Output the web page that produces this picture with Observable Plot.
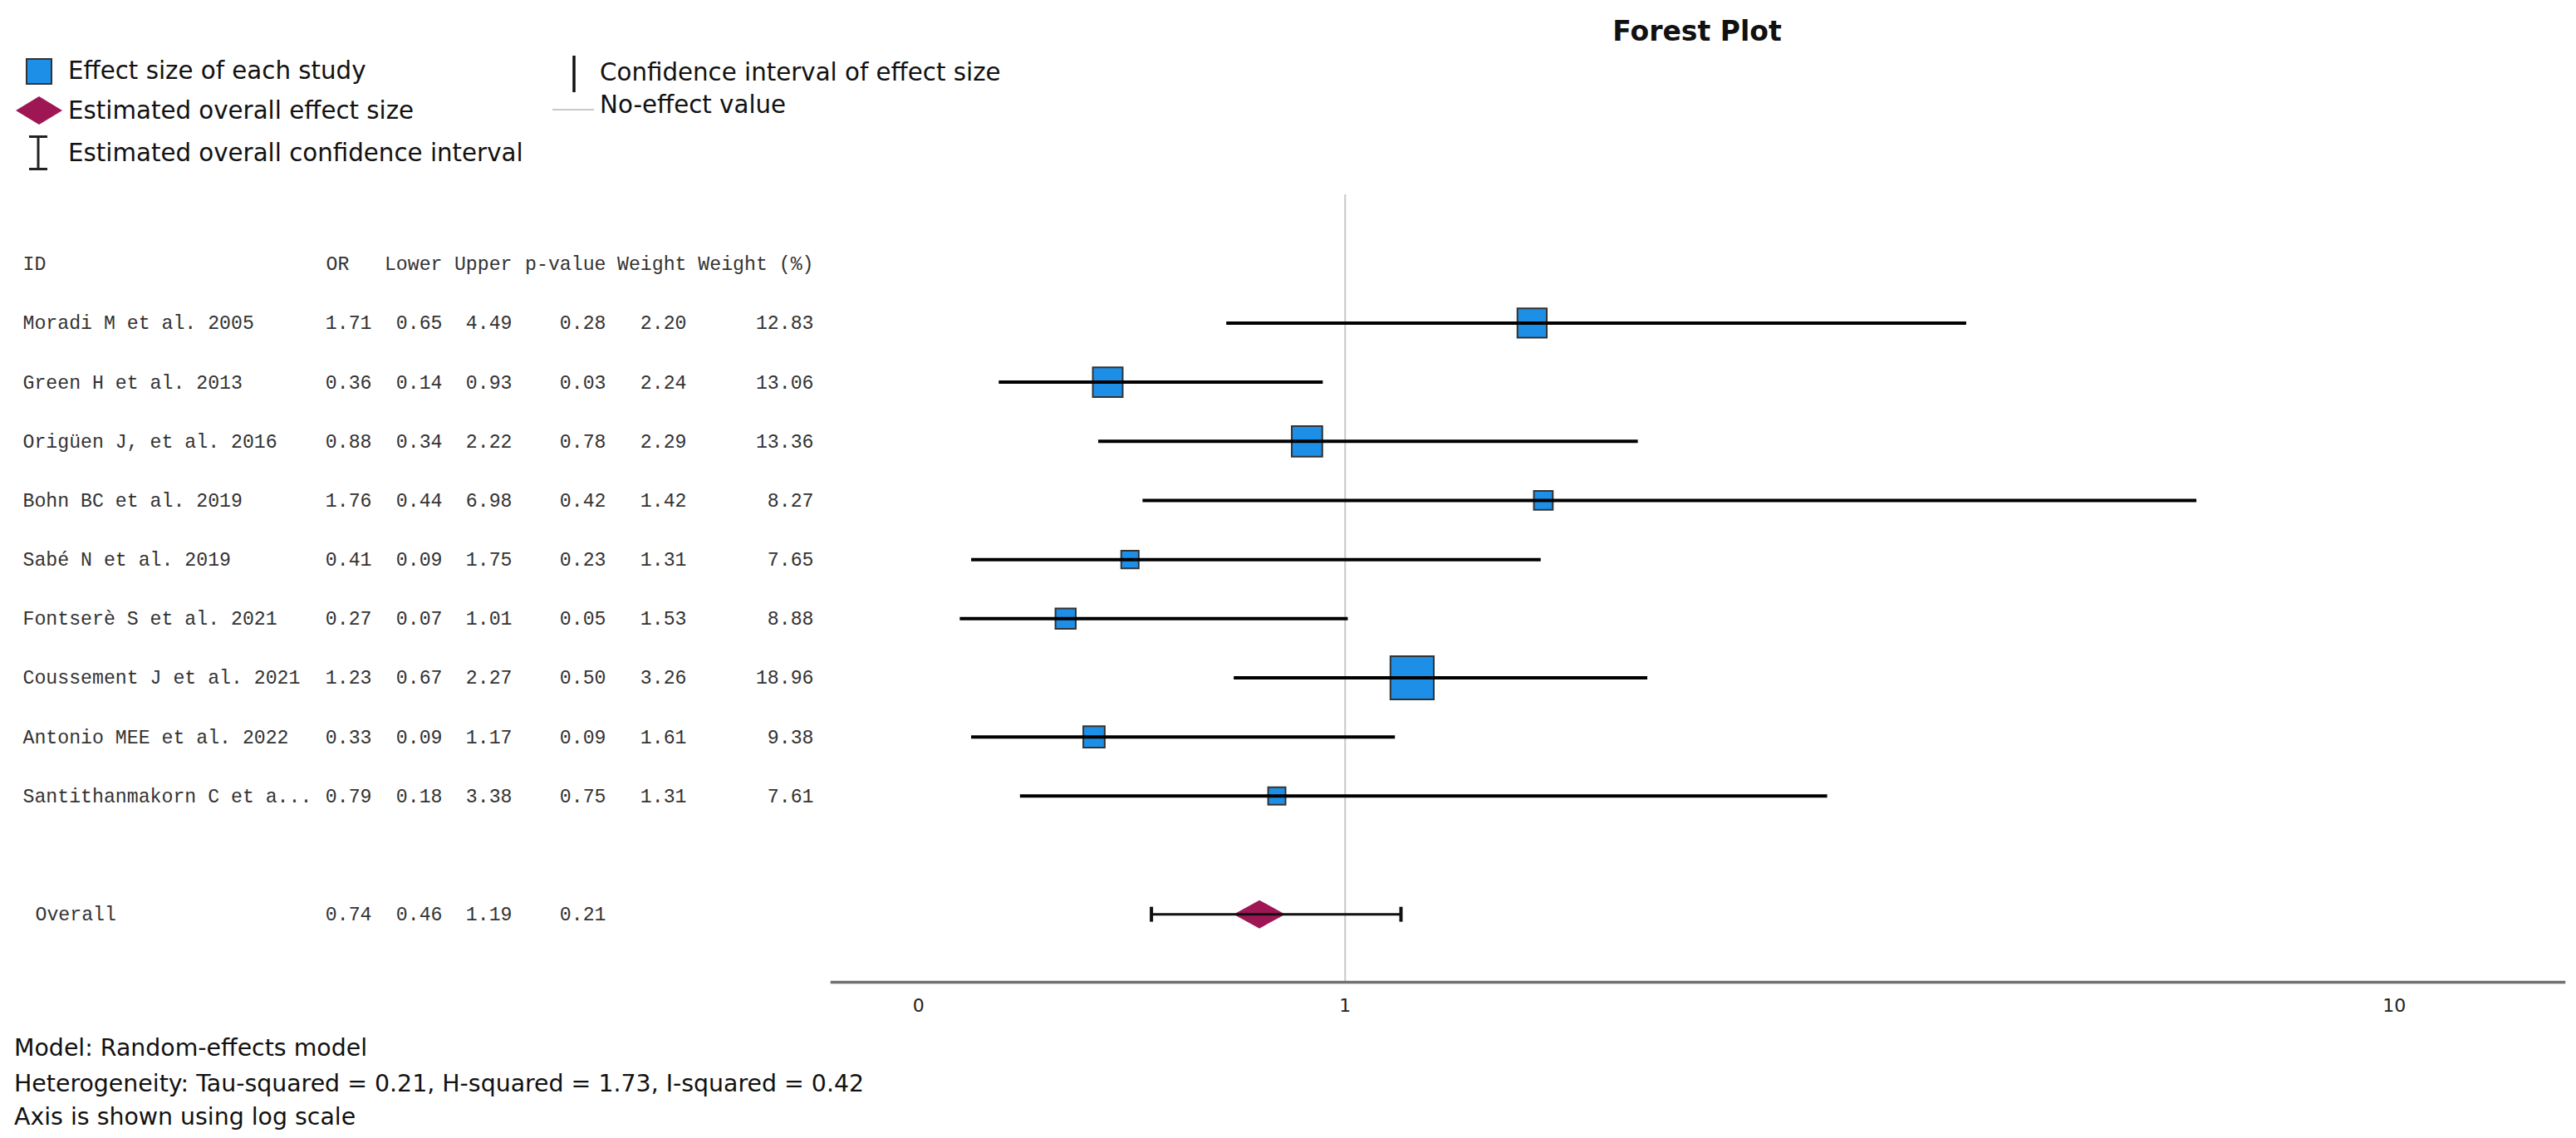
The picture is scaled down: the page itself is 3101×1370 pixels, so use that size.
<!DOCTYPE html>
<html>
<head>
<meta charset="utf-8">
<script src="https://cdn.jsdelivr.net/npm/d3@7"></script>
<script src="https://cdn.jsdelivr.net/npm/@observablehq/plot@0.6"></script>
<style>
  html, body { margin: 0; padding: 0; background: #fff; }
  #page { position: relative; width: 3101px; height: 1370px; overflow: hidden; background: #fff; }
  #chart { position: absolute; left: 0; top: 0; z-index: 0; }
  .lbl { position: absolute; font-family: "DejaVu Sans", sans-serif; color: #111; white-space: nowrap; z-index: 2; }
  .icon { position: absolute; z-index: 2; }
</style>
</head>
<body>
<div id="page">
  <div id="chart"></div>
</div>
<script>
// ---------------- data ----------------
const studies = [
  "Moradi M et al. 2005",
  "Green H et al. 2013",
  "Origüen J, et al. 2016",
  "Bohn BC et al. 2019",
  "Sabé N et al. 2019",
  "Fontserè S et al. 2021",
  "Coussement J et al. 2021",
  "Antonio MEE et al. 2022",
  "Santithanmakorn C et a..."
];
const orValues    = [1.71, 0.36, 0.88, 1.76, 0.41, 0.27, 1.23, 0.33, 0.79];
const lowerValues = [0.65, 0.14, 0.34, 0.44, 0.09, 0.07, 0.67, 0.09, 0.18];
const upperValues = [4.49, 0.93, 2.22, 6.98, 1.75, 1.01, 2.27, 1.17, 3.38];
const pValues     = [0.28, 0.03, 0.78, 0.42, 0.23, 0.05, 0.50, 0.09, 0.75];
const weights     = [2.20, 2.24, 2.29, 1.42, 1.31, 1.53, 3.26, 1.61, 1.31];
const weightPct   = [12.83, 13.06, 13.36, 8.27, 7.65, 8.88, 18.96, 9.38, 7.61];

const overallLabel = "Overall";
const overallOR = 0.74, overallLower = 0.46, overallUpper = 1.19, overallP = 0.21;

const headers = ["ID", "OR", "Lower", "Upper", "p-value", "Weight", "Weight (%)"];
const xTicks = [0, 1, 10];
const xTickLabels = ["0", "1", "10"];

const titleText = "Forest Plot";
const legendItems = [
  "Effect size of each study",
  "Estimated overall effect size",
  "Estimated overall confidence interval",
  "Confidence interval of effect size",
  "No-effect value"
];
const footerLines = [
  "Model: Random-effects model",
  "Heterogeneity: Tau-squared = 0.21, H-squared = 1.73, I-squared = 0.42",
  "Axis is shown using log scale"
];

// ---------------- tables ----------------
const rows = studies.map((id, i) => ({
  id, or: orValues[i], lower: lowerValues[i], upper: upperValues[i],
  p: pValues[i], weight: weights[i], pct: weightPct[i], row: i + 1
}));
const overall = { id: overallLabel, or: overallOR, lower: overallLower, upper: overallUpper, p: overallP, row: studies.length + 2 };
const headerRow = [{ row: 0 }];

// ---------------- layout ----------------
const W = 3101, H = 1240;
const mL = 1001, mR = 15, mT = 234, mB = 58;
const mono = "'Liberation Mono', 'DejaVu Sans Mono', monospace";
const monoSize = 23.2;
const tableColor = "#333";
const f2 = v => (v == null ? "" : v.toFixed(2));

const cols = [
  { key: "id",     x: 27,  anchor: "start", hx: 27,  hanchor: "start", fmt: v => v },
  { key: "or",     x: 447, anchor: "end",   hx: 392, hanchor: "start", fmt: f2 },
  { key: "lower",  x: 532, anchor: "end",   hx: 532, hanchor: "end",   fmt: f2 },
  { key: "upper",  x: 616, anchor: "end",   hx: 616, hanchor: "end",   fmt: f2 },
  { key: "p",      x: 729, anchor: "end",   hx: 729, hanchor: "end",   fmt: f2 },
  { key: "weight", x: 826, anchor: "end",   hx: 826, hanchor: "end",   fmt: f2 },
  { key: "pct",    x: 979, anchor: "end",   hx: 979, hanchor: "end",   fmt: f2 }
];

const tableMarks = [];
cols.forEach((c, ci) => {
  tableMarks.push(Plot.text(headerRow, {
    y: "row", text: () => headers[ci], frameAnchor: "left", dx: c.hx - mL,
    textAnchor: c.hanchor, fontFamily: mono, fontSize: monoSize, fill: tableColor
  }));
  tableMarks.push(Plot.text(rows, {
    y: "row", text: d => c.fmt(d[c.key]), frameAnchor: "left", dx: c.x - mL,
    textAnchor: c.anchor, fontFamily: mono, fontSize: monoSize, fill: tableColor
  }));
  if (overall[c.key] !== undefined) {
    tableMarks.push(Plot.text([overall], {
      y: "row", text: d => c.fmt(d[c.key]), frameAnchor: "left",
      dx: c.x - mL + (c.key === "id" ? 15 : 0),
      textAnchor: c.anchor, fontFamily: mono, fontSize: monoSize, fill: tableColor
    }));
  }
});

const diamondSymbol = {
  draw(ctx) { ctx.moveTo(-31, 0); ctx.lineTo(0, -17); ctx.lineTo(31, 0); ctx.lineTo(0, 17); ctx.closePath(); }
};
const capSymbol = {
  draw(ctx) { ctx.moveTo(0, -9); ctx.lineTo(0, 9); }
};

const chart = Plot.plot({
  width: W, height: H,
  marginLeft: mL, marginRight: mR, marginTop: mT, marginBottom: mB,
  style: { background: "transparent", overflow: "visible" },
  x: { type: "symlog", constant: 1, domain: [-0.151, 13.49] },
  y: { type: "linear", domain: [-1.17, 12.15], reverse: true, axis: null },
  r: { type: "linear", domain: [0, 20], range: [0, 31.04] },
  marks: [
    Plot.ruleX([1], { stroke: "#c8c8c8", strokeWidth: 2 }),
    Plot.frame({ anchor: "bottom", stroke: "#6f6f6f", strokeWidth: 3.5 }),
    Plot.axisX({
      ticks: xTicks, tickFormat: (d, i) => xTickLabels[xTicks.indexOf(d)],
      tickSize: 0, tickPadding: 20, label: null,
      fontSize: 22, fontFamily: "'DejaVu Sans', sans-serif", fill: "#222"
    }),
    ...tableMarks,
    Plot.dot(rows, { x: "or", y: "row", r: "pct", symbol: "square", fill: "#1e8fe6", stroke: "#333", strokeWidth: 2 }),
    Plot.ruleY(rows, { x1: "lower", x2: "upper", y: "row", stroke: "#000", strokeWidth: 4 }),
    Plot.dot([overall], { x: "or", y: "row", symbol: diamondSymbol, fill: "#9f1655", stroke: "none" }),
    Plot.ruleY([overall], { x1: "lower", x2: "upper", y: "row", stroke: "#111", strokeWidth: 3 }),
    Plot.dot([overall.lower, overall.upper], { x: d => d, y: () => overall.row, symbol: capSymbol, fill: "none", stroke: "#111", strokeWidth: 4 })
  ]
});
document.getElementById("chart").appendChild(chart);

// ---------------- title, legend, footer (HTML) ----------------
const page = document.getElementById("page");
function addLabel(text, left, cy, size, weight, anchor) {
  const el = document.createElement("div");
  el.className = "lbl";
  el.textContent = text;
  el.style.fontSize = size + "px";
  el.style.lineHeight = (size * 1.4) + "px";
  el.style.top = (cy - size * 0.7) + "px";
  if (weight) el.style.fontWeight = weight;
  if (anchor === "middle") { el.style.left = left + "px"; el.style.transform = "translateX(-50%)"; }
  else el.style.left = left + "px";
  page.appendChild(el);
  return el;
}
function addIcon(svg, left, top, w, h) {
  const el = document.createElement("div");
  el.className = "icon";
  el.style.left = left + "px"; el.style.top = top + "px";
  el.innerHTML = `<svg width="${w}" height="${h}" viewBox="0 0 ${w} ${h}">${svg}</svg>`;
  page.appendChild(el);
}

addLabel(titleText, 2043, 38, 33, "bold", "middle");

// left legend column
addIcon(`<rect x="1" y="1" width="30" height="30" fill="#1e8fe6" stroke="#333" stroke-width="2"/>`, 31, 70, 32, 32);
addLabel(legendItems[0], 82, 86, 29.3);
addIcon(`<polygon points="0,17 28,0 56,17 28,34" fill="#9f1655"/>`, 19, 116, 56, 34);
addLabel(legendItems[1], 82, 134, 29.3);
addIcon(`<line x1="12" y1="1" x2="12" y2="41" stroke="#222" stroke-width="3"/><line x1="1" y1="1.5" x2="23" y2="1.5" stroke="#222" stroke-width="3"/><line x1="1" y1="40.5" x2="23" y2="40.5" stroke="#222" stroke-width="3"/>`, 34, 163, 24, 42);
addLabel(legendItems[2], 82, 185, 29.3);

// right legend column
addIcon(`<line x1="2" y1="0" x2="2" y2="44" stroke="#111" stroke-width="3.5"/>`, 689, 67, 4, 44);
addLabel(legendItems[3], 722, 88, 29.3);
addIcon(`<line x1="0" y1="2" x2="50" y2="2" stroke="#c8c8c8" stroke-width="2"/>`, 665, 120, 50, 4);
addLabel(legendItems[4], 722, 127, 29.3);

// footer
const footerY = [1262, 1305, 1345];
footerLines.forEach((t, i) => addLabel(t, 17, footerY[i], 28.4));
</script>
</body>
</html>
